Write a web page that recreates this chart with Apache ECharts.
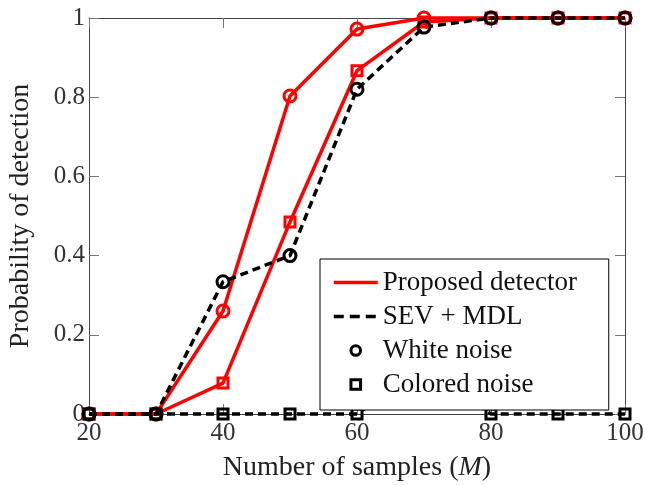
<!DOCTYPE html>
<html><head><meta charset="utf-8">
<script src="https://cdn.jsdelivr.net/npm/echarts@6/dist/echarts.min.js"></script>
<style>html,body{margin:0;padding:0;background:#fff}#c{width:645px;height:485px}</style>
</head><body><div id="c"></div>
<script>
// ---- data ----
const samples = [20, 30, 40, 50, 60, 70, 80, 90, 100];
const proposedWhite   = [0, 0, 0.26, 0.803, 0.972, 1.0, 1, 1, 1];
const proposedColored = [0, 0, 0.078, 0.485, 0.867, 0.99, 1, 1, 1];
const sevWhite        = [0, 0, 0.334, 0.40, 0.82, 0.977, 1, 1, 1];
const sevColored      = [0, 0, 0, 0, 0, 0.12, 0, 0, 0];
const xTickLabels = ['20', '40', '60', '80', '100'];
const yTickLabels = ['0', '0.2', '0.4', '0.6', '0.8', '1'];
const legendNames = ['Proposed detector', 'SEV + MDL', 'White noise', 'Colored noise'];

// ---- styles ----
const FONT = "'Liberation Serif', 'DejaVu Serif', serif";
const RED = '#ff0000', BLACK = '#000000', CLEAR = 'rgba(0,0,0,0)';
const LW = 3.5, DASH = [8, 5];

function pairs(ys) { return samples.map((x, i) => [x, ys[i]]); }

function dataSeries(name, ys, color, dashed, symbol, size) {
  return {
    name: name, type: 'line', data: pairs(ys), clip: false,
    symbol: symbol, symbolSize: size, showAllSymbol: true,
    lineStyle: { color: color, width: LW, type: dashed ? DASH : 'solid', cap: 'butt' },
    itemStyle: { color: CLEAR, borderColor: color, borderWidth: 3 },
    emphasis: { disabled: true }, silent: true, z: 2
  };
}
function dummy(name, color, dashed, symbol, lineWidth) {
  return {
    name: name, type: 'line', data: [], symbol: symbol,
    lineStyle: { color: color, width: lineWidth, type: dashed ? DASH : 'solid' },
    itemStyle: { color: CLEAR, borderColor: color, borderWidth: 3 }
  };
}

const axisCommon = {
  axisLine: { show: true, onZero: false, lineStyle: { color: '#444', width: 1 } },
  axisTick: { show: true, inside: true, length: 10, lineStyle: { color: '#777', width: 1 } },
  splitLine: { show: false }
};

const chart = echarts.init(document.getElementById('c'), null, { renderer: 'canvas' });
chart.setOption({
  animation: false,
  backgroundColor: '#fff',
  grid: { left: 89, right: 20, top: 18, bottom: 71, containLabel: false, outerBoundsMode: 'none' },
  xAxis: [
    Object.assign({
      type: 'value', min: 20, max: 100, interval: 20, position: 'bottom',
      axisLabel: { fontFamily: FONT, fontSize: 25, color: '#333', margin: 7,
        formatter: v => xTickLabels[Math.round((v - 20) / 20)] },
      name: 'Number of samples ({i|M})', nameLocation: 'middle', nameGap: 40,
      nameTextStyle: { fontFamily: FONT, fontSize: 28, color: '#222',
        rich: { i: { fontFamily: FONT, fontSize: 28, fontStyle: 'italic', color: '#222' } } }
    }, axisCommon),
    Object.assign({
      type: 'value', min: 20, max: 100, interval: 20, position: 'top',
      axisLabel: { show: false }
    }, axisCommon)
  ],
  yAxis: [
    Object.assign({
      type: 'value', min: 0, max: 1, interval: 0.2, position: 'left',
      axisLabel: { fontFamily: FONT, fontSize: 25, color: '#333', margin: 4,
        formatter: v => yTickLabels[Math.round(v / 0.2)] },
      name: 'Probability of detection', nameLocation: 'middle', nameGap: 54,
      nameTextStyle: { fontFamily: FONT, fontSize: 28, color: '#222' }
    }, axisCommon),
    Object.assign({
      type: 'value', min: 0, max: 1, interval: 0.2, position: 'right',
      axisLabel: { show: false }
    }, axisCommon)
  ],
  legend: {
    orient: 'vertical', left: 320, top: 259,
    padding: [10, 12, 12, 12],
    itemWidth: 44, itemHeight: 12, itemGap: 7,
    backgroundColor: '#fff', borderColor: '#000', borderWidth: 1, borderRadius: 0,
    selectedMode: false,
    textStyle: { fontFamily: FONT, fontSize: 27, color: '#111', lineHeight: 25, width: 214 },
    data: [
      { name: legendNames[0], itemStyle: { opacity: 0 },
        lineStyle: { color: RED, width: LW, type: 'solid', opacity: 1 } },
      { name: legendNames[1], itemStyle: { opacity: 0 },
        lineStyle: { color: BLACK, width: LW, type: [10, 6], opacity: 1 } },
      { name: legendNames[2], lineStyle: { opacity: 0, width: 0 },
        itemStyle: { color: CLEAR, borderColor: BLACK, borderWidth: 3, opacity: 1 } },
      { name: legendNames[3], lineStyle: { opacity: 0, width: 0 },
        itemStyle: { color: CLEAR, borderColor: BLACK, borderWidth: 3, opacity: 1 } }
    ]
  },
  series: [
    dataSeries('Proposed, white', proposedWhite, RED, false, 'circle', 12),
    dataSeries('Proposed, colored', proposedColored, RED, false, 'rect', 10),
    dataSeries('SEV+MDL, white', sevWhite, BLACK, true, 'circle', 12),
    dataSeries('SEV+MDL, colored', sevColored, BLACK, true, 'rect', 10),
    dummy(legendNames[0], RED, false, 'none', LW),
    dummy(legendNames[1], BLACK, true, 'none', LW),
    dummy(legendNames[2], BLACK, false, 'circle', 0),
    dummy(legendNames[3], BLACK, false, 'rect', 0)
  ]
});
</script>
</body></html>
